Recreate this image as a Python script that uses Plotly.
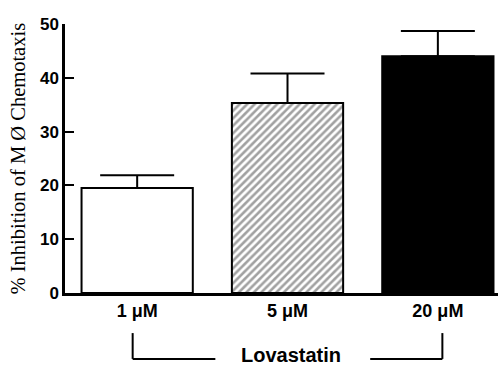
import plotly.graph_objects as go

categories = ["1 \u03bcM", "5 \u03bcM", "20 \u03bcM"]
values = [19.5, 35.3, 44.0]
errors = [2.4, 5.5, 4.7]
y_ticks = [0, 10, 20, 30, 40, 50]
y_title = "% Inhibition of M \u00d8 Chemotaxis"
group_label = "Lovastatin"

fills = ["white", "white", "black"]
patterns = ["", "/", ""]

fig = go.Figure()
fig.add_trace(go.Bar(
    x=categories, y=values,
    marker=dict(color=fills, line=dict(color="black", width=2),
                pattern=dict(shape=patterns, fgcolor="black", bgcolor="white",
                             size=5.3, solidity=0.5)),
    error_y=dict(type="data", array=errors, arrayminus=[0, 0, 0], symmetric=False,
                 color="black", thickness=2, width=37),
    width=0.74,
))

fig.update_layout(
    width=498, height=365,
    margin=dict(l=65, r=0, t=24, b=72),
    plot_bgcolor="white", paper_bgcolor="white",
    showlegend=False,
    font=dict(family="Arial, Liberation Sans", color="black"),
    xaxis=dict(range=[-0.48, 2.4], showline=True, linecolor="black", linewidth=2.5,
               ticks="", showgrid=False, zeroline=False,
               tickfont=dict(size=18, weight="bold", family="Liberation Sans")),
    yaxis=dict(range=[0, 50], tickvals=y_ticks, showline=True, linecolor="black",
               linewidth=2.5, ticks="inside", ticklen=9, tickwidth=2, tickcolor="black",
               showgrid=False, zeroline=False,
               tickfont=dict(size=17, weight="bold", family="Liberation Sans")),
)

fig.add_annotation(text=y_title, xref="paper", yref="paper", x=-0.108, y=-0.012,
                   xanchor="center", yanchor="bottom", textangle=-90, showarrow=False,
                   font=dict(family="Liberation Serif", size=20.5, color="black"))

fig.add_annotation(text=group_label, xref="x", yref="paper", x=1.02, y=-0.23,
                   xanchor="center", yanchor="middle", showarrow=False,
                   font=dict(family="Liberation Sans", size=20, weight="bold", color="black"))

line = dict(color="black", width=2)
fig.add_shape(type="line", xref="x", yref="paper", x0=-0.03, x1=-0.03, y0=-0.149, y1=-0.245, line=line)
fig.add_shape(type="line", xref="x", yref="paper", x0=2.03, x1=2.03, y0=-0.149, y1=-0.245, line=line)
fig.add_shape(type="line", xref="x", yref="paper", x0=-0.03, x1=0.52, y0=-0.245, y1=-0.245, line=line)
fig.add_shape(type="line", xref="x", yref="paper", x0=1.55, x1=2.03, y0=-0.245, y1=-0.245, line=line)

fig.write_html("out.html", config={"displayModeBar": False},
               post_script="document.body.style.margin='0px';")
